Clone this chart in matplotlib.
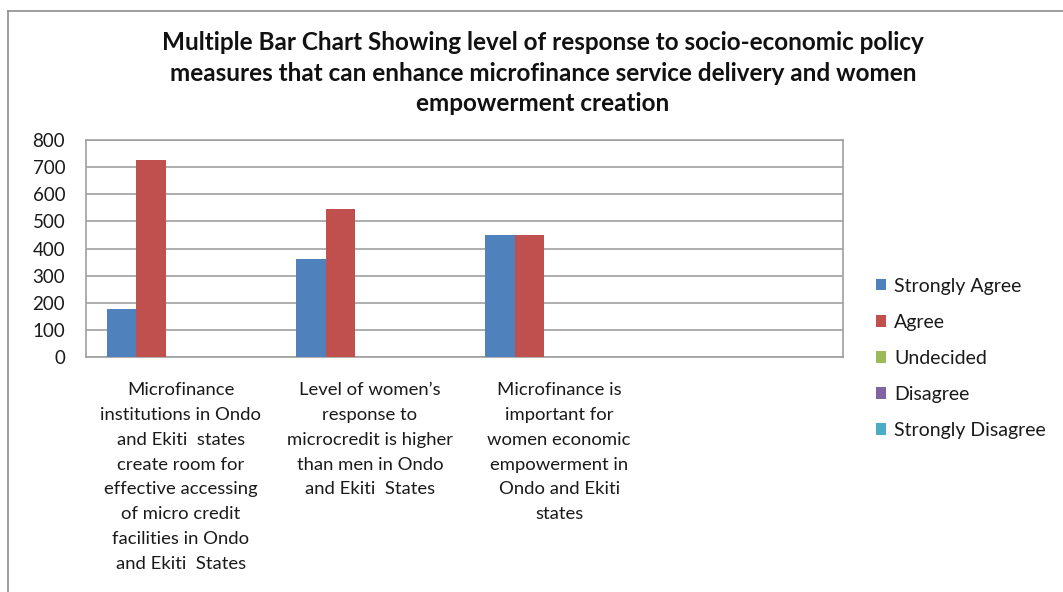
import matplotlib
matplotlib.use('Agg')
import matplotlib.pyplot as plt
from matplotlib.patches import Patch
from matplotlib.lines import Line2D
import numpy as np

plt.rcParams['font.family'] = ['Lato', 'DejaVu Sans']

TITLE = ('Multiple Bar Chart Showing level of response to socio-economic policy\n'
         'measures that can enhance microfinance service delivery and women\n'
         'empowerment creation')

categories = [
    'Microfinance\ninstitutions in Ondo\nand Ekiti  states\ncreate room for\n'
    'effective accessing\nof micro credit\nfacilities in Ondo\nand Ekiti  States',
    'Level of women\u2019s\nresponse to\nmicrocredit is higher\nthan men in Ondo\n'
    'and Ekiti  States',
    'Microfinance is\nimportant for\nwomen economic\nempowerment in\n'
    'Ondo and Ekiti\nstates',
    '',
]
series_names = ['Strongly Agree', 'Agree', 'Undecided', 'Disagree', 'Strongly Disagree']
strongly_agree = [178, 360, 450, 0]
agree = [725, 545, 450, 0]
undecided = [0, 0, 0, 0]
disagree = [0, 0, 0, 0]
strongly_disagree = [0, 0, 0, 0]
colors = ['#4F81BD', '#C0504D', '#9BBB59', '#8064A2', '#4BACC6']
y_ticks = [0, 100, 200, 300, 400, 500, 600, 700, 800]

W, H = 1063, 592
fig = plt.figure(figsize=(W / 100, H / 100), dpi=100)
ax = fig.add_axes([86 / W, 1 - 357 / H, (843 - 86) / W, (357 - 140) / H])

values = [strongly_agree, agree, undecided, disagree, strongly_disagree]
n_cat = len(categories)
bw = 0.156
pad = (1 - bw * len(values)) / 2
x = np.arange(n_cat)
for j, (vals, name, col) in enumerate(zip(values, series_names, colors)):
    ax.bar(x + pad + bw * (j + 0.5), vals, width=bw, color=col, linewidth=0,
           label=name, zorder=3)

ax.set_xlim(0, n_cat)
ax.set_ylim(0, 800)
ax.set_yticks(y_ticks)
ax.set_yticklabels([str(v) for v in y_ticks], fontsize=13.5, color='#1a1a1a')
ax.set_xticks(x + 0.5)
ax.set_xticklabels(categories, fontsize=13.3, color='#1a1a1a', linespacing=1.68,
                   va='top')
ax.tick_params(axis='both', length=0)
ax.tick_params(axis='y', pad=15)
ax.tick_params(axis='x', pad=18)
ax.grid(axis='y', color='#a0a0a0', linewidth=1.2, zorder=0)
for s in ax.spines.values():
    s.set_color('#a0a0a0')
    s.set_linewidth(1.2)

handles = [Patch(facecolor=c, edgecolor='none') for c in colors]
fig.legend(handles, series_names, loc='upper left',
           bbox_to_anchor=(858 / W, 1 - 260 / H), frameon=False,
           fontsize=14, handlelength=0.55, handleheight=0.55,
           handletextpad=0.4, labelspacing=0.98, labelcolor='#1a1a1a')

fig.text(543 / W, 1 - 31 / H, TITLE, ha='center', va='top', fontsize=17.5,
         fontweight='bold', linespacing=1.4, color='#111111')

# chart-area border (top and left edges visible)
fig.add_artist(Line2D([8 / W, 1], [1 - 11 / H, 1 - 11 / H], transform=fig.transFigure,
                      color='#8c8c8c', linewidth=1.2))
fig.add_artist(Line2D([8 / W, 8 / W], [0, 1 - 11 / H], transform=fig.transFigure,
                      color='#8c8c8c', linewidth=1.2))

fig.savefig('out.png', dpi=100, facecolor='white')
